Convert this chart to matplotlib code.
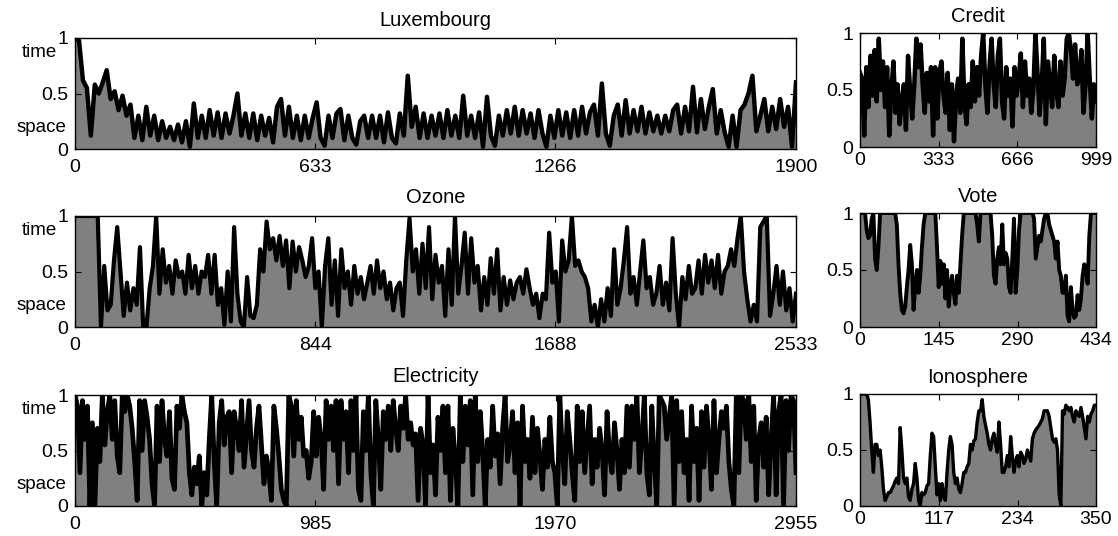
import numpy as np
import matplotlib
matplotlib.use("Agg")
import matplotlib.pyplot as plt

plt.rcParams['font.family'] = ['Liberation Sans', 'DejaVu Sans']

# ---------------- data ----------------
lux_n = 1900
lux_ticks = [0, 633, 1266, 1900]
lux = [1.0, 0.98, 0.62, 0.55, 0.12, 0.58, 0.5, 0.6, 0.71, 0.45, 0.52, 0.35, 0.48, 0.3, 0.4,
       0.1, 0.3, 0.08, 0.38, 0.12, 0.3, 0.08, 0.25, 0.1, 0.2, 0.08, 0.22, 0.06, 0.25, 0.02,
       0.41, 0.1, 0.3, 0.1, 0.35, 0.12, 0.33, 0.1, 0.32, 0.14, 0.3, 0.5, 0.12, 0.32, 0.1,
       0.32, 0.08, 0.3, 0.12, 0.28, 0.06, 0.38, 0.45, 0.12, 0.38, 0.1, 0.3, 0.08, 0.3, 0.1,
       0.28, 0.42, 0.1, 0.03, 0.3, 0.1, 0.32, 0.36, 0.08, 0.3, 0.1, 0.04, 0.25, 0.3, 0.1,
       0.3, 0.1, 0.3, 0.06, 0.33, 0.1, 0.05, 0.32, 0.12, 0.66,
       0.2, 0.38, 0.1, 0.32, 0.1, 0.3, 0.12, 0.32, 0.1, 0.35, 0.12, 0.3, 0.1, 0.48, 0.12,
       0.3, 0.1, 0.33, 0.02, 0.47, 0.12, 0.03, 0.3, 0.12, 0.35, 0.14, 0.38, 0.12, 0.35, 0.14,
       0.32, 0.1, 0.35, 0.14, 0.02, 0.3, 0.1, 0.35, 0.12, 0.33, 0.1, 0.35, 0.12, 0.38, 0.14,
       0.33, 0.4, 0.12, 0.59, 0.14, 0.03, 0.3, 0.4, 0.12, 0.44, 0.14, 0.35, 0.16, 0.38, 0.14,
       0.33, 0.16, 0.3, 0.14, 0.3, 0.16, 0.35, 0.4, 0.14, 0.38, 0.16, 0.56, 0.15, 0.45, 0.18,
       0.38, 0.54, 0.14, 0.35, 0.15, 0.02, 0.3, 0.02, 0.35, 0.4, 0.5, 0.66, 0.16, 0.3, 0.45,
       0.16, 0.38, 0.18, 0.45, 0.2, 0.38, 0.02, 0.6]

ozone_n = 2533
ozone_ticks = [0, 844, 1688, 2533]
ozone = [1.0, 1.0, 1.0, 1.0, 1.0, 1.0, 1.0, 1.0, 0.0,
         0.55, 0.15, 0.2, 0.6, 0.9, 0.5, 0.1, 0.4, 0.15, 0.35, 0.2, 0.72, 0.0, 0.0, 0.35, 0.55,
         1.0, 0.3, 0.7, 0.4, 0.55, 0.3, 0.6, 0.45, 0.5, 0.3, 0.65, 0.35, 0.55, 0.3, 0.5, 0.45,
         0.65, 0.3, 0.65, 0.2, 0.35, 0.02, 0.5, 0.05, 0.9, 0.3, 0.05, 0.0, 0.45, 0.1, 0.08, 0.2,
         0.7, 0.5, 0.95, 0.7, 0.8, 0.6, 0.82, 0.55, 0.78, 0.35, 0.77, 0.5, 0.72, 0.6, 0.45, 0.55,
         0.8, 0.35, 0.5, 0.0, 0.55, 0.8, 0.2, 0.6, 0.1, 0.7, 0.35, 0.5, 0.2, 0.55, 0.3, 0.45,
         0.25, 0.4, 0.55, 0.3, 0.6, 0.35, 0.5, 0.25, 0.4, 0.15, 0.35, 0.4, 0.1, 0.6, 0.98, 0.5,
         0.7,
         0.3, 0.75, 0.35, 0.9, 0.25, 0.65, 0.4, 0.55, 0.1, 0.7, 0.2, 1.0, 0.3, 0.55, 0.85, 0.3,
         0.8, 0.4, 0.55, 0.15, 0.45, 0.2, 0.62, 0.3, 0.7, 0.15, 0.45, 0.2, 0.42, 0.25, 0.4, 0.45,
         0.3, 0.52, 0.35, 0.2, 0.3, 0.08, 0.3, 0.25, 0.85, 0.4, 0.5, 0.05, 0.78, 0.5, 0.6, 1.0,
         0.55, 0.6, 0.5, 0.45, 0.35, 0.05, 0.2, 0.0, 0.25, 0.05, 0.35, 0.1, 0.7, 0.2, 0.35, 0.6,
         0.9, 0.3, 0.45, 0.2, 0.5, 0.78, 0.35, 0.45, 0.2, 0.3, 0.55, 0.2, 0.4, 0.15, 0.8, 0.3,
         0.0, 0.45, 0.25, 0.55, 0.3, 0.35, 0.6, 0.3, 0.65, 0.4, 0.6, 0.35, 0.65, 0.3, 0.5, 0.55,
         0.7, 0.55, 0.8, 1.0, 0.5, 0.25, 0.05, 0.2, 0.05, 0.9, 0.95, 1.0, 0.1, 0.3, 0.55, 0.2,
         0.5, 0.15, 0.35, 0.05, 0.3]

elec_n = 2955
elec_ticks = [0, 985, 1970, 2955]
elec = [1.0, 0.9, 0.3, 0.95, 0.6, 0.9, 0.0, 0.75, 0.0, 0.7, 0.4, 1.0, 0.55, 0.85, 1.0, 0.6,
        0.95, 0.45, 0.3, 1.0, 0.85, 1.0, 0.9, 0.7, 0.4, 0.05, 0.95, 0.5, 0.95, 0.8, 0.6, 0.2,
        0.0, 0.9, 0.4, 0.95, 0.6, 0.45, 0.85, 0.25, 0.15, 0.9, 0.7, 1.0, 0.85, 0.75, 0.3, 0.1,
        0.35, 0.2, 0.45, 0.0, 0.3, 0.1, 0.6, 1.0, 0.4, 0.0, 0.75, 0.95, 0.55, 0.8, 0.85, 0.3,
        0.85, 0.7, 0.5, 0.95, 0.35, 0.65, 0.95, 0.5, 0.35, 0.7, 0.9, 0.55, 0.2, 0.45, 0.3, 0.05,
        0.9, 0.7, 0.45, 0.15, 0.05, 0.0, 1.0, 0.9, 0.45, 0.95, 0.6, 0.8, 0.45, 0.5, 0.25, 0.4,
        0.85, 0.45, 0.8, 0.6, 0.15, 0.95, 0.6, 0.9, 0.5, 0.95, 0.2, 0.95, 0.6, 0.85, 0.3, 0.95,
        0.5, 1.0, 0.15, 0.05, 0.85, 0.5, 1.0, 0.3, 0.0, 0.95, 0.6, 0.15, 0.85, 0.6, 0.9, 0.5,
        0.95, 0.7, 0.5, 0.9, 0.7, 1.0, 0.6, 0.75, 0.55, 0.65, 0.05, 0.7, 0.55, 0.0,
        1.0, 0.3, 0.55, 0.1, 0.8, 0.5, 0.9, 0.3, 0.9, 0.05, 0.7, 0.4, 0.0, 1.0, 0.4, 0.9, 0.55,
        0.95, 0.1, 1.0, 0.4, 0.85, 0.5, 0.0, 0.6, 0.35, 0.9, 0.45, 0.65, 0.2, 0.7, 1.0, 0.4,
        0.55, 0.85, 0.3, 0.75, 0.0, 0.9, 0.4, 0.6, 0.25, 0.8, 0.3, 0.7, 0.45, 0.15, 0.6, 0.35,
        0.8, 0.4, 0.3, 0.0, 1.0, 0.5, 0.2, 0.85, 0.6, 0.3, 0.05, 0.9, 0.4, 0.85, 0.3, 0.6, 0.9,
        0.2, 0.6, 0.35, 0.7, 0.5, 0.1, 0.85, 0.45, 0.3, 0.75, 0.5, 0.15, 0.6, 0.3, 0.9, 0.35,
        0.9, 0.6, 1.0, 0.3, 0.6, 1.0, 0.3, 0.1, 0.9, 0.4, 0.0, 1.0, 0.95, 0.9, 0.6, 0.8, 1.0,
        0.0, 0.95, 0.4, 0.85, 0.3, 0.6, 0.05, 0.9, 0.4, 0.7, 0.05, 0.85, 0.35, 0.9, 0.6, 0.15,
        0.95, 0.3, 0.6, 0.85, 0.7, 0.9, 0.4, 0.15, 0.0, 1.0, 0.3, 1.0, 0.95, 0.6, 1.0, 0.4, 0.9,
        0.05, 0.6, 0.75, 0.35, 0.8, 0.1, 0.6, 1.0, 0.1, 0.85, 1.0, 0.0, 0.95, 0.5, 1.0, 0.95,
        0.3]

credit_n = 999
credit_ticks = [0, 333, 666, 999]
credit = [0.65, 0.6, 0.1, 0.7, 0.35, 0.8, 0.45, 0.85, 0.4, 0.95, 0.5, 0.75, 0.35, 0.7, 0.1,
          0.5, 0.75, 0.3, 0.55, 0.2, 0.4, 0.55, 0.15, 0.8, 0.5, 0.25, 0.55, 0.95, 0.7, 0.9,
          0.55, 0.3, 0.65, 0.4, 0.7, 0.1, 0.7, 0.25, 0.65, 0.75, 0.45, 0.3, 0.65, 0.15, 0.55,
          0.05, 0.45, 0.6, 0.3, 0.95, 0.4, 0.2, 0.55, 0.35, 0.75, 0.4, 0.7, 0.45, 0.8, 1.0,
          0.55, 0.3, 0.7, 0.95, 0.55, 0.35, 0.8, 0.95, 0.4, 0.25, 0.7, 0.45, 0.6, 0.18, 0.7,
          0.45, 0.6, 0.82, 0.35, 0.75, 0.45, 0.6, 0.3, 0.5, 1.0, 0.65, 0.28, 0.55, 0.95, 0.2,
          0.75, 0.55, 0.35, 0.8, 0.5, 0.35, 0.75, 0.45, 0.6, 0.95, 1.0, 0.85, 0.6, 0.9, 0.55,
          0.6, 0.85, 0.3, 0.55, 1.0, 0.6, 0.25, 0.55, 0.4]

vote_n = 434
vote_ticks = [0, 145, 290, 434]
vote = [1.0, 1.0, 1.0, 1.0, 0.85, 0.78, 0.8, 0.95, 1.0, 0.6, 0.5, 0.7, 1.0, 1.0, 1.0, 1.0,
        1.0, 1.0, 1.0, 1.0, 1.0, 1.0, 0.9, 0.55, 0.3, 0.15, 0.12, 0.18, 0.35, 0.5, 0.72, 0.55,
        0.15, 0.35, 0.5, 0.3, 0.45, 0.7, 0.9, 1.0, 1.0, 1.0, 1.0, 1.0, 1.0, 1.0, 0.7, 0.35,
        0.58, 0.38, 0.55, 0.25, 0.5, 0.18, 0.35, 0.45, 0.3, 0.2, 0.45, 0.3, 0.55, 0.8, 1.0,
        1.0, 1.0, 1.0, 1.0, 1.0, 1.0, 1.0, 0.9, 0.75, 1.0, 1.0, 1.0, 1.0, 1.0, 1.0, 1.0, 0.8,
        0.45, 0.38, 0.6, 0.7, 0.55, 0.9, 0.55, 0.65, 0.6, 0.35, 0.3, 0.6, 0.95, 0.3, 0.5, 0.85,
        1.0, 1.0, 1.0, 1.0, 1.0, 1.0, 1.0, 1.0, 0.95, 0.6, 0.7, 0.8, 0.75, 0.85, 0.95, 1.0,
        1.0, 0.9, 0.85, 0.8, 0.75, 0.6, 0.75, 0.5, 0.45, 0.3, 0.3, 0.45, 0.1, 0.05, 0.35, 0.15,
        0.08, 0.1, 0.28, 0.15, 0.25, 0.45, 0.55, 0.5, 0.38, 0.8, 1.0, 1.0, 1.0, 1.0]

iono_n = 350
iono_ticks = [0, 117, 234, 350]
iono = [1.0, 1.0, 1.0, 1.0, 1.0, 0.95, 0.75, 0.5, 0.3, 0.55, 0.55, 0.45, 0.5, 0.35, 0.15,
        0.05, 0.08, 0.12, 0.12, 0.15, 0.18, 0.22, 0.25, 0.2, 0.7, 0.5, 0.25, 0.2, 0.25, 0.08,
        0.05, 0.15, 0.2, 0.38, 0.25, 0.05, 0.0, 0.12, 0.1, 0.12, 0.18, 0.2, 0.45, 0.65, 0.62,
        0.35, 0.1, 0.2, 0.05, 0.2, 0.08, 0.05, 0.3, 0.5, 0.62, 0.55, 0.3, 0.2, 0.25, 0.15, 0.12,
        0.2, 0.3, 0.3, 0.35, 0.38, 0.55, 0.5, 0.58, 0.6, 0.75, 0.85, 0.85, 0.95, 0.8, 0.72,
        0.65, 0.55, 0.5, 0.6, 0.65, 0.55, 0.48, 0.75, 0.55, 0.3, 0.3, 0.35, 0.45, 0.35, 0.62,
        0.45, 0.3, 0.4, 0.45, 0.35, 0.48, 0.45, 0.38, 0.42, 0.5, 0.45, 0.4, 0.6, 0.65, 0.68,
        0.7, 0.72, 0.75, 0.78, 0.85, 0.85, 0.85, 0.8, 0.7, 0.6, 0.57, 0.6, 0.5, 0.1, 0.0, 0.85,
        0.82, 0.9, 0.88, 0.85, 0.88, 0.8, 0.75, 0.85, 0.82, 0.8, 0.88, 0.8, 0.7, 0.6, 0.8, 0.75,
        0.82, 0.85, 0.9, 0.9]

# ---------------- figure ----------------
W, H = 1118, 536
fig = plt.figure(figsize=(W / 100, H / 100), dpi=100)

def px_axes(left, top, right, bottom):
    return fig.add_axes([left / W, 1 - bottom / H, (right - left) / W, (bottom - top) / H])

GRAY = '#808080'
TICK_FS = 14

def draw(ax, y, n, ticks, title, wide, lw):
    x = np.linspace(0, n, len(y))
    ax.fill_between(x, 0, y, color=GRAY, lw=0)
    ax.plot(x, y, color='black', lw=lw, solid_joinstyle='round')
    ax.set_xlim(0, n)
    ax.set_ylim(0, 1)
    ax.set_xticks(ticks)
    ax.set_xticklabels([str(t) for t in ticks])
    ax.set_yticks([0, 0.5, 1])
    ax.set_yticklabels(['0', '0.5', '1'])
    ax.tick_params(axis='both', direction='in', top=True, right=True, length=4,
                   width=0.8, labelsize=TICK_FS)
    ax.tick_params(axis='y', pad=5)
    ax.tick_params(axis='x', pad=7 if wide else 3.5)
    for s in ax.spines.values():
        s.set_linewidth(1.0)
        s.set_color('black')
    ax.set_title(title, fontsize=14.5, pad=9 if wide else 8)
    if wide:
        ax.annotate('time', xy=(0, 0.87), xycoords=('axes fraction', 'data'),
                    xytext=(-13, 0), textcoords='offset points',
                    ha='right', va='center', fontsize=13.5)
        ax.annotate('space', xy=(0, 0.19), xycoords=('axes fraction', 'data'),
                    xytext=(-6, 0), textcoords='offset points',
                    ha='right', va='center', fontsize=13.5)

ax1 = px_axes(75, 38, 796, 149)
draw(ax1, lux, lux_n, lux_ticks, 'Luxembourg', True, 3.2)
ax2 = px_axes(75, 216, 796, 327)
draw(ax2, ozone, ozone_n, ozone_ticks, 'Ozone', True, 3.0)
ax3 = px_axes(75, 395, 796, 506)
draw(ax3, elec, elec_n, elec_ticks, 'Electricity', True, 3.4)

ax4 = px_axes(860, 33, 1096, 147)
draw(ax4, credit, credit_n, credit_ticks, 'Credit', False, 3.2)
ax5 = px_axes(860, 213, 1096, 327)
draw(ax5, vote, vote_n, vote_ticks, 'Vote', False, 2.8)
ax6 = px_axes(860, 394, 1096, 506)
draw(ax6, iono, iono_n, iono_ticks, 'Ionosphere', False, 2.4)

fig.savefig('out.png', dpi=100)
